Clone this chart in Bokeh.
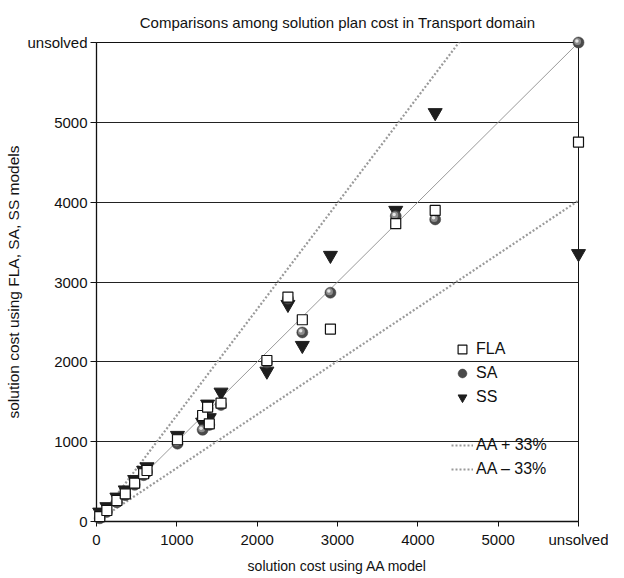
import numpy as np
from bokeh.plotting import figure
from bokeh.models import FixedTicker, Legend, LegendItem, Range1d
from bokeh.embed import file_html
from bokeh.resources import INLINE

# ---- data (AA model cost on x; other models on y; 6000 = "unsolved") ----
aa_cost  = [40, 129, 254, 358, 475, 587, 629, 1008, 1321, 1383, 1404, 1550, 2121, 2383, 2562, 2912, 3725, 4216, 6000]
fla_cost = [60, 138, 263, 347, 480, 598, 639, 1024, 1328, 1432, 1224, 1482, 2017, 2811, 2527, 2410, 3731, 3897, 4753]
sa_cost  = [40, 120, 240, 330, 460, 580, 620, 975, 1149, 1420, 1210, 1460, 1990, 2790, 2368, 2866, 3826, 3784, 6000]
ss_cost  = [117, 185, 305, 395, 525, 640, 685, 1078, 1244, 1470, 1300, 1620, 1883, 2719, 2205, 3333, 3897, 5121, 3355]

ref_x = [0, 6000]
ref_factors = {"AA": 1.0, "AA + 33%": 1.33, "AA – 33%": 0.67}

tick_values = [0, 1000, 2000, 3000, 4000, 5000, 6000]
tick_labels = ["0", "1000", "2000", "3000", "4000", "5000", "unsolved"]
grid_values = [1000, 2000, 3000, 4000, 5000]

FONT = "Liberation Sans"

p = figure(frame_width=482, frame_height=479,
           x_range=Range1d(0, 6000), y_range=Range1d(0, 6000),
           output_backend="svg", toolbar_location=None,
           min_border_left=96, min_border_right=30,
           min_border_top=42, min_border_bottom=48,
           background_fill_color="white", border_fill_color="white")

p.title.text = "Comparisons among solution plan cost in Transport domain"
p.title.text_font = FONT
p.title.text_font_size = "15px"
p.title.text_font_style = "normal"
p.title.text_color = "#111111"
p.title.align = "center"
p.title.standoff = 23

p.outline_line_color = "#111111"
p.outline_line_width = 1

labels = dict(zip(tick_values, tick_labels))
for ax in (p.xaxis[0], p.yaxis[0]):
    ax.ticker = FixedTicker(ticks=tick_values)
    ax.major_label_overrides = labels
    ax.minor_tick_line_color = None
    ax.major_tick_in = 0
    ax.axis_line_color = "#111111"
    ax.axis_line_width = 1.3
    ax.major_tick_line_color = "#111111"
    ax.major_label_text_font = FONT
    ax.major_label_text_font_size = "15px"
    ax.major_label_text_color = "#111111"
    ax.axis_label_text_font = FONT
    ax.axis_label_text_font_style = "normal"
    ax.axis_label_text_color = "#111111"

p.xaxis.axis_label = "solution cost using AA model"
p.xaxis.axis_label_text_font_size = "14px"
p.xaxis.major_tick_out = 5
p.xaxis.major_label_standoff = 4
p.xaxis.axis_label_standoff = 7

p.yaxis.axis_label = "solution cost using FLA, SA, SS models"
p.yaxis.axis_label_text_font_size = "15.5px"
p.yaxis.major_tick_out = 6
p.yaxis.major_label_standoff = 3
p.yaxis.axis_label_standoff = 2

p.xgrid.visible = False
p.ygrid.ticker = FixedTicker(ticks=grid_values)
p.ygrid.grid_line_color = "#222222"
p.ygrid.grid_line_width = 1

# reference lines
ref_renderers = {}
for name, f in ref_factors.items():
    ys = [v * f for v in ref_x]
    if name == "AA":
        r = p.line(ref_x, ys, line_color="#9a9a9a", line_width=1)
    else:
        r = p.line(ref_x, ys, line_color="#9a9a9a", line_width=2.2, line_dash="2 2")
    ref_renderers[name] = r

blank = p.line([0, 0], [0, 0], line_alpha=0)

# SS: inverted triangles
r_ss = p.scatter(aa_cost, ss_cost, marker="inverted_triangle", size=14,
                 fill_color="#1e1e1e", line_color="#1e1e1e", level="overlay")

# SA: shaded spheres (dark base + lighter highlight, offset up-left)
sa_x = np.array(aa_cost, dtype=float)
sa_y = np.array(sa_cost, dtype=float)
r_sa1 = p.scatter(sa_x, sa_y, marker="circle", size=11, fill_color="#4a4a4a",
                  line_color="#3a3a3a", line_width=0.5, level="overlay")
r_sa2 = p.scatter(sa_x - 12, sa_y + 12, marker="circle", size=7, fill_color="#8c8c8c",
                  line_color=None, level="overlay")
r_sa3 = p.scatter(sa_x - 20, sa_y + 20, marker="circle", size=3.5, fill_color="#e6e6e6",
                  line_color=None, level="overlay")

# FLA: open squares
r_fla = p.scatter(aa_cost, fla_cost, marker="square", size=10, fill_color="white",
                  line_color="#111111", line_width=1.2, level="overlay")

legend = Legend(items=[
    LegendItem(label="FLA", renderers=[r_fla]),
    LegendItem(label="SA", renderers=[r_sa1]),
    LegendItem(label="SS", renderers=[r_ss]),
    LegendItem(label=" ", renderers=[blank]),
    LegendItem(label="AA + 33%", renderers=[ref_renderers["AA + 33%"]]),
    LegendItem(label="AA – 33%", renderers=[ref_renderers["AA – 33%"]]),
], location=(355, 41))
legend.background_fill_alpha = 0
legend.border_line_color = None
legend.label_text_font = FONT
legend.label_text_font_size = "16px"
legend.label_text_color = "#111111"
legend.glyph_width = 22
legend.glyph_height = 22
legend.label_height = 22
legend.spacing = 2
legend.padding = 0
legend.margin = 0
legend.label_standoff = 3
p.add_layout(legend, "center")

open("out.html", "w").write(file_html(p, INLINE))
